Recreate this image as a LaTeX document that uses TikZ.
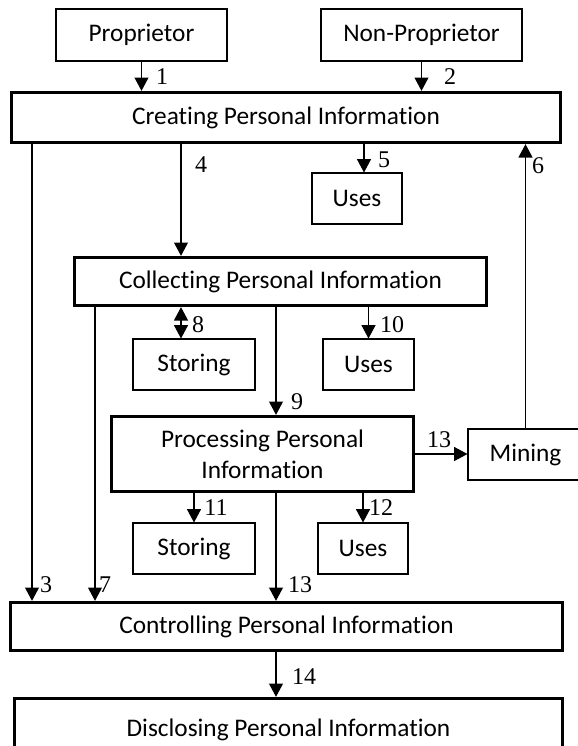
\documentclass[tikz,border=0pt]{standalone}
\usepackage{fontspec}
\setmainfont{Liberation Serif}
\newfontfamily\boxfont[Ligatures=NoCommon]{Carlito}
\usetikzlibrary{arrows.meta}
\begin{document}
\begin{tikzpicture}[x=0.75pt, y=-0.75pt,
	box/.style = {draw, line width=0.8pt, inner sep=0pt, align=center,
		font=\boxfont\fontsize{19}{23}\selectfont},
	bigbox/.style = {box, line width=2.5pt},
	wh/.style 2 args = {minimum width=#1*0.75pt, minimum height=#2*0.75pt},
	arr/.style = {-{Triangle[length=10pt,width=10.5pt]}, line width=0.8pt},
	num/.style = {inner sep=0pt, font=\fontsize{18}{20}\selectfont}]
		\path[use as bounding box, clip] (0,0) rectangle (578,746);
		%Laatikot
		\node[box, wh={171}{52}] (prop) at (141.5,35) {Proprietor};
		\node[box, wh={201}{52}] (nonprop) at (421.5,35) {Non-Proprietor};
		\node[bigbox, wh={549}{50}] (create) at (286,117.5) {Creating Personal Information};
		\node[box, wh={90}{51}] (uses1) at (357,198.5) {Uses};
		\node[bigbox, wh={412}{48}] (collect) at (280.5,281.5) {Collecting Personal Information};
		\node[box, wh={122}{51}] (store1) at (194,364.5) {Storing};
		\node[box, wh={91}{51}] (uses2) at (368.5,364.5) {Uses};
		\node[bigbox, wh={302}{75}] (proc) at (262.5,454) {Processing Personal\\Information};
		\node[box, wh={115}{51}] (mining) at (525.5,454.5) {Mining};
		\node[box, wh={122}{51}] (store2) at (194,548.5) {Storing};
		\node[box, wh={90}{51}] (uses3) at (363,548.5) {Uses};
		\node[bigbox, wh={552}{48}] (control) at (286.5,626.5) {Controlling Personal Information};
		\node[bigbox, wh={548}{63}] (disclose) at (288.5,730) {Disclosing Personal Information};
		% Pystyviivat
		\coordinate (x3) at (32,0);
		\coordinate (x4) at (181,0);
		\coordinate (x5) at (364,0);
		\coordinate (x7) at (95,0);
		\coordinate (x9) at (276,0);
		% Nuolet
		\draw[arr] (prop.south) -- (prop.south |- create.north);		% 1
		\draw[arr] (nonprop.south) -- (nonprop.south |- create.north);	% 2
		\draw[arr] (create.south -| x3) -- (control.north -| x3);		% 3
		\draw[arr] (create.south -| x4) -- (collect.north -| x4);		% 4
		\draw[arr] (create.south -| x5) -- (uses1.north -| x5);		% 5
		\draw[arr] (mining.north) -- (mining.north |- create.south);	% 6
		\draw[arr] (collect.south -| x7) -- (control.north -| x7);		% 7
		\draw[arr, {Triangle[length=10pt,width=10.5pt]}-{Triangle[length=10pt,width=10.5pt]}] (collect.south -| x4) -- (store1.north -| x4);	% 8
		\draw[arr] (collect.south -| x9) -- (proc.north -| x9);		% 9
		\draw[arr] (uses2.north |- collect.south) -- (uses2.north);	% 10
		\draw[arr] (store2.north |- proc.south) -- (store2.north);	% 11
		\draw[arr] (uses3.north |- proc.south) -- (uses3.north);		% 12
		\draw[arr] (proc.east) -- (proc.east -| mining.west);		% 13
		\draw[arr] (proc.south -| x9) -- (control.north -| x9);		% 13
		\draw[arr] (control.south -| x9) -- (disclose.north -| x9);	% 14
		% Numerot
		\node[num] (n1) at (162,77) {1};
		\node[num] (n2) at (450,77) {2};
		\node[num] (n3) at (46,585) {3};
		\node[num] (n4) at (201,165) {4};
		\node[num] (n5) at (384,160) {5};
		\node[num] (n6) at (538,166) {6};
		\node[num] (n7) at (105,585) {7};
		\node[num] (n8) at (198,325) {8};
		\node[num] (n9) at (297,402) {9};
		\node[num] (n10) at (392,325) {10};
		\node[num] (n11) at (216,508) {11};
		\node[num] (n12) at (381,508) {12};
		\node[num] (n13a) at (439,440) {13};
		\node[num] (n13b) at (300,585) {13};
		\node[num] (n14) at (304,677) {14};
		\end{tikzpicture}
\end{document}
